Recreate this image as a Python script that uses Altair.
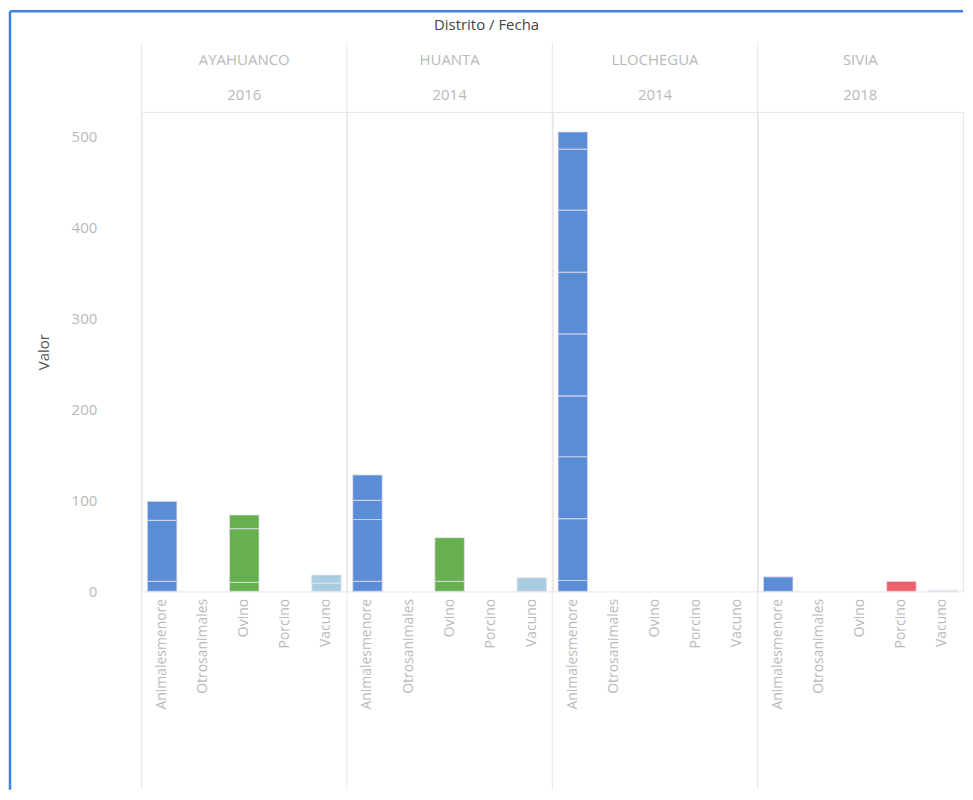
import altair as alt
import pandas as pd

# ---- data ----
panels = ["AYAHUANCO|2016", "HUANTA|2014", "LLOCHEGUA|2014", "SIVIA|2018"]
categories = ["Animalesmenore", "Otrosanimales", "Ovino", "Porcino", "Vacuno"]
colors = ["#5a8dd6", "#f2a05a", "#66b04f", "#f0606c", "#a8cde0"]

# stacked records (bottom to top) for each bar
ayahuanco = {"Animalesmenore": [11, 67, 21], "Otrosanimales": [], "Ovino": [10, 59, 15],
             "Porcino": [], "Vacuno": [9, 9]}
huanta = {"Animalesmenore": [11, 68, 21, 28], "Otrosanimales": [], "Ovino": [11, 48],
          "Porcino": [], "Vacuno": [15]}
llochegua = {"Animalesmenore": [12, 68, 68, 67, 68, 68, 68, 67, 19], "Otrosanimales": [],
             "Ovino": [], "Porcino": [], "Vacuno": []}
sivia = {"Animalesmenore": [16], "Otrosanimales": [], "Ovino": [], "Porcino": [11],
         "Vacuno": [1]}
panel_values = [ayahuanco, huanta, llochegua, sivia]

y_ticks = [0, 100, 200, 300, 400, 500]

rows = []
for p, vals in zip(panels, panel_values):
    for c in categories:
        for i, v in enumerate(vals[c]):
            rows.append({"panel": p, "cat": c, "seg": i, "Valor": v})
df = pd.DataFrame(rows)

W = 206
H = 481
FONT = "Open Sans"
GREY = "#b9b9b9"
LINE = "#e6e6e6"

bars = alt.Chart().mark_bar(stroke="#efe4ee", strokeWidth=1.2, strokeOpacity=0.6).encode(
    x=alt.X("cat:N", scale=alt.Scale(domain=categories, paddingInner=0.28, paddingOuter=0.14),
            title=None,
            axis=alt.Axis(labelAngle=270, labelColor=GREY, labelFontSize=14, labelFont=FONT,
                          labelPadding=7, labelLimit=300, ticks=False, domain=False)),
    y=alt.Y("sum(Valor):Q", title="Valor",
            scale=alt.Scale(domain=[0, 527], nice=False),
            axis=alt.Axis(values=y_ticks, grid=False, ticks=False, domain=False,
                          labelColor=GREY, labelFontSize=15, labelFont=FONT, labelPadding=45,
                          titleColor="#555555", titleFontSize=15, titleFont=FONT,
                          titleFontWeight="normal", titlePadding=20)),
    color=alt.Color("cat:N", scale=alt.Scale(domain=categories, range=colors), legend=None),
    order=alt.Order("seg:Q"),
)

first_rows = "datum.cat == 'Animalesmenore' && datum.seg == 0"

dividers = alt.Chart().transform_filter(first_rows).mark_rule(
    color=LINE, strokeWidth=1).encode(
    x=alt.value(0), y=alt.value(-70), y2=alt.value(H + 199))

border_left = alt.Chart().transform_filter(
    first_rows + " && datum.panel == 'AYAHUANCO|2016'").mark_rule(
    color="#3f7fe0", strokeWidth=2.5).encode(
    x=alt.value(-132), y=alt.value(-101), y2=alt.value(H + 199))

border_top = alt.Chart().transform_filter(
    first_rows + " && datum.panel == 'AYAHUANCO|2016'").mark_rule(
    color="#3f7fe0", strokeWidth=2.5).encode(
    x=alt.value(-132), x2=alt.value(4 * W), y=alt.value(-101))

layered = alt.layer(bars, dividers, border_left, border_top).properties(width=W, height=H)

chart = layered.facet(
    column=alt.Column(
        "panel:N", sort=panels,
        header=alt.Header(title="Distrito / Fecha", labelExpr="split(datum.value, '|')",
                          labelOrient="top", titleOrient="top",
                          labelColor=GREY, labelFontSize=15, labelFont=FONT,
                          labelLineHeight=35, labelBaseline="bottom", labelPadding=-6,
                          titleColor="#444444", titleFontSize=15, titleFont=FONT,
                          titleFontWeight="normal", titlePadding=10)),
    data=df,
    spacing=0,
    bounds="flush",
).properties(
    padding={"left": 0, "top": 0, "right": 0, "bottom": 0},
    background="white",
).configure_view(stroke=LINE, strokeWidth=1)

chart.save("out.html", embed_options={"renderer": "svg", "actions": False})
